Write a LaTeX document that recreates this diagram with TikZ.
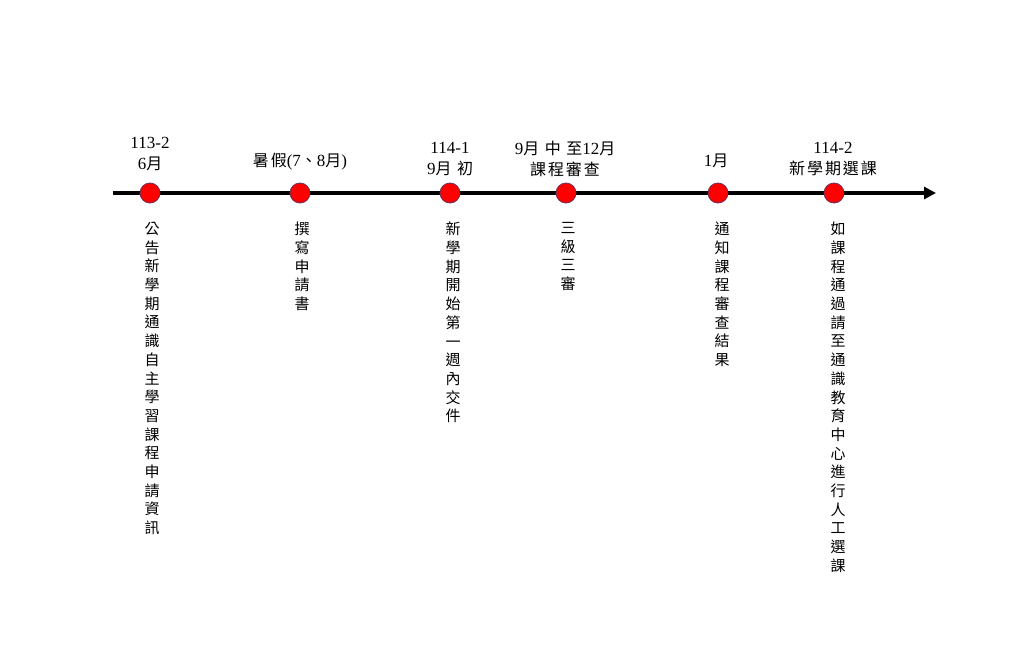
\documentclass[tikz,border=0pt]{standalone}
\usepackage{fontspec}
\setmainfont{Liberation Serif}
\newfontfamily\cjk{Noto Sans CJK TC}
\newfontfamily\cjksp[LetterSpace=12]{Noto Sans CJK TC}
\usetikzlibrary{arrows.meta}
\newcommand\C[1]{{\cjksp\fontsize{16}{21}\selectfont #1}}
\definecolor{dotedge}{RGB}{110,50,90}
\tikzset{
  dot/.style={circle, fill=red, draw=dotedge, line width=0.8pt, minimum size=20pt, inner sep=0pt},
  toplab/.style={align=center, inner sep=0pt, font=\fontsize{17}{21}\selectfont},
  vlab/.style={align=center, anchor=north, inner sep=0pt, font=\cjk\fontsize{15}{18.7}\selectfont},
  axis/.style={line width=4pt, -{Triangle[length=12pt,width=12pt]}}
}
\begin{document}
\begin{tikzpicture}[x=1pt,y=-1pt]
\useasboundingbox (0,0) rectangle (1021,654);
\coordinate (start) at (113,193);
\coordinate (end) at (936,193);
\draw[axis] (start) -- (end);
\node[dot] (d1) at (150,193) {};
\node[dot] (d2) at (300,193) {};
\node[dot] (d3) at (450,193) {};
\node[dot] (d4) at (566,193) {};
\node[dot] (d5) at (718,193) {};
\node[dot] (d6) at (834,193) {};
% top labels
\node[toplab] (t1) at (150,154) {113-2\\6\C{月}};
\node[toplab] (t2) at (300,162) {\C{暑假}(7\C{、}8\C{月})};
\node[toplab] (t3) at (450,159) {114-1\\9\C{月 初}};
\node[toplab] (t4) at (565,159) {9\C{月 中 至}12\C{月}\\\C{課程審查}};
\node[toplab] (t5) at (716,161) {1\C{月}};
\node[toplab] (t6) at (833,159) {114-2\\\C{新學期選課}};
% vertical labels
\node[vlab] (v1) at (152,222) {公\\告\\新\\學\\期\\通\\識\\自\\主\\學\\習\\課\\程\\申\\請\\資\\訊};
\node[vlab] (v2) at (302,222) {撰\\寫\\申\\請\\書};
\node[vlab] (v3) at (453,222) {新\\學\\期\\開\\始\\第\\一\\週\\內\\交\\件};
\node[vlab] (v4) at (568,222) {三\\級\\三\\審};
\node[vlab] (v5) at (722,222) {通\\知\\課\\程\\審\\查\\結\\果};
\node[vlab] (v6) at (838,222) {如\\課\\程\\通\\過\\請\\至\\通\\識\\教\\育\\中\\心\\進\\行\\人\\工\\選\\課};
\end{tikzpicture}
\end{document}
